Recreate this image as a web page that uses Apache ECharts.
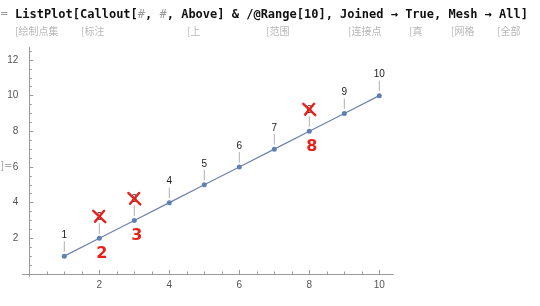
<!DOCTYPE html>
<html>
<head>
<meta charset="utf-8">
<script src="https://cdn.jsdelivr.net/npm/echarts@6/dist/echarts.min.js"></script>
<style>
html,body{margin:0;padding:0;background:#fff;}
#chart{width:540px;height:306px;}
</style>
</head>
<body>
<div id="chart"></div>
<script>
// ---- data ----
const xValues = [1, 2, 3, 4, 5, 6, 7, 8, 9, 10];
const yValues = [1, 2, 3, 4, 5, 6, 7, 8, 9, 10];
const calloutLabels = ['1', '2', '3', '4', '5', '6', '7', '8', '9', '10'];
const crossedPoints = [2, 3, 8];
const correctionLabels = ['2', '3', '8'];
const xMajorTicks = [2, 4, 6, 8, 10];
const xMinorTicks = [0.5, 1, 1.5, 2.5, 3, 3.5, 4.5, 5, 5.5, 6.5, 7, 7.5, 8.5, 9, 9.5];
const yMajorTicks = [2, 4, 6, 8, 10, 12];
const yMinorTicks = [0.5, 1, 1.5, 2.5, 3, 3.5, 4.5, 5, 5.5, 6.5, 7, 7.5, 8.5, 9, 9.5, 10.5, 11, 11.5, 12.5];
const codeLine = 'ListPlot[Callout[#, #, Above] & /@Range[10], Joined → True, Mesh → All]';
const hintWords = ['绘制点集', '标注', '上', '范围', '连接点', '真', '网格', '全部'];

// ---- build ----
const pointData = xValues.map((x, i) => [x, yValues[i], calloutLabels[i]]);
const corrData = crossedPoints.map((x, i) => {
  const idx = xValues.indexOf(x);
  return [xValues[idx], yValues[idx], correctionLabels[i]];
});

const X_MIN = -0.2, X_MAX = 10.4, Y_MIN = -0.13, Y_MAX = 12.7;
const gridBox = {left: 22.3, top: 47.5, width: 371, height: 228.8};
const axisGray = '#9a9a9a';

// header text pieces
const codeParts = codeLine.split('#');
let codeRich = '';
codeParts.forEach((p, i) => {
  codeRich += '{b|' + p + '}';
  if (i < codeParts.length - 1) codeRich += '{s|#}';
});
const hintX = [15, 81, 187, 266, 348, 409, 451, 497];
const graphics = [
  {type: 'text', left: 0, top: 9, style: {text: '=', fill: '#999', font: '10px "DejaVu Sans"'}},
  {type: 'text', left: 0, top: 161, style: {text: ']=', fill: '#aaa', font: '10px "DejaVu Sans"'}},
  {type: 'text', x: 15, y: 15, style: {
    text: codeRich, verticalAlign: 'middle', align: 'left',
    rich: {
      b: {fontFamily: 'DejaVu Sans Mono', fontWeight: 'bold', fontSize: 12, fill: '#111'},
      s: {fontFamily: 'DejaVu Sans Mono', fontStyle: 'italic', fontSize: 12, fill: '#9a9a9a'}
    }
  }}
];
hintWords.forEach((w, i) => {
  graphics.push({type: 'text', x: hintX[i], y: 31, style: {
    text: '[' + w, verticalAlign: 'middle', align: 'left',
    fill: '#b8b8b8', font: '10px "Noto Sans CJK SC"'
  }});
});

const chart = echarts.init(document.getElementById('chart'), null, {renderer: 'canvas'});
chart.setOption({
  animation: false,
  backgroundColor: '#fff',
  graphic: graphics,
  grid: [
    Object.assign({containLabel: false}, gridBox),
    Object.assign({containLabel: false}, gridBox)
  ],
  xAxis: [
    {
      type: 'value', gridIndex: 0, min: X_MIN, max: X_MAX,
      axisLine: {show: true, onZero: true, lineStyle: {color: axisGray, width: 1}},
      axisTick: {show: true, inside: true, length: 4, customValues: xMajorTicks, lineStyle: {color: axisGray}},
      axisLabel: {show: true, customValues: xMajorTicks, margin: 4, color: '#555', fontSize: 10, fontFamily: 'Liberation Sans'},
      splitLine: {show: false}
    },
    {
      type: 'value', gridIndex: 1, min: X_MIN, max: X_MAX,
      axisLine: {show: false, onZero: true},
      axisTick: {show: true, inside: true, length: 2.5, customValues: xMinorTicks, lineStyle: {color: axisGray}},
      axisLabel: {show: false},
      splitLine: {show: false}
    }
  ],
  yAxis: [
    {
      type: 'value', gridIndex: 0, min: Y_MIN, max: Y_MAX,
      axisLine: {show: true, onZero: true, lineStyle: {color: axisGray, width: 1}},
      axisTick: {show: true, inside: true, length: 4, customValues: yMajorTicks, lineStyle: {color: axisGray}},
      axisLabel: {show: true, customValues: yMajorTicks, margin: 4, color: '#555', fontSize: 10, fontFamily: 'Liberation Sans'},
      splitLine: {show: false}
    },
    {
      type: 'value', gridIndex: 1, min: Y_MIN, max: Y_MAX,
      axisLine: {show: false, onZero: true},
      axisTick: {show: true, inside: true, length: 2.5, customValues: yMinorTicks, lineStyle: {color: axisGray}},
      axisLabel: {show: false},
      splitLine: {show: false}
    }
  ],
  series: [
    {
      type: 'custom', xAxisIndex: 0, yAxisIndex: 0, z: 2,
      data: pointData,
      renderItem: function (params, api) {
        const p = api.coord([api.value(0), api.value(1)]);
        const label = pointData[params.dataIndex][2];
        return {type: 'group', children: [
          {type: 'line', shape: {x1: p[0], y1: p[1] - 4.5, x2: p[0], y2: p[1] - 15}, style: {stroke: '#b0b0b0', lineWidth: 1}},
          {type: 'text', style: {x: p[0], y: p[1] - 21, text: label, align: 'center', verticalAlign: 'middle', fill: '#1a1a1a', font: '10px "Liberation Sans"'}}
        ]};
      }
    },
    {
      type: 'line', xAxisIndex: 0, yAxisIndex: 0, z: 3,
      data: xValues.map((x, i) => [x, yValues[i]]),
      showSymbol: true, symbol: 'circle', symbolSize: 5,
      itemStyle: {color: '#5E81B5'},
      lineStyle: {color: '#6f80a8', width: 1.2}
    },
    {
      type: 'custom', xAxisIndex: 0, yAxisIndex: 0, z: 5,
      data: corrData,
      renderItem: function (params, api) {
        const p = api.coord([api.value(0), api.value(1)]);
        const label = corrData[params.dataIndex][2];
        const cx = p[0], cy = p[1] - 21.5, r = 6;
        const red = '#e8221b';
        return {type: 'group', children: [
          {type: 'line', shape: {x1: cx - r, y1: cy - r, x2: cx + r, y2: cy + r * 0.9}, style: {stroke: red, lineWidth: 2.4, lineCap: 'round'}},
          {type: 'line', shape: {x1: cx + r * 0.8, y1: cy - r, x2: cx - r * 0.7, y2: cy + r * 0.8}, style: {stroke: red, lineWidth: 2.4, lineCap: 'round'}},
          {type: 'text', style: {x: p[0] + 2.5, y: p[1] + 15.5, text: label, align: 'center', verticalAlign: 'middle', fill: red, font: 'bold 16px "DejaVu Sans"'}}
        ]};
      }
    }
  ]
});
</script>
</body>
</html>
